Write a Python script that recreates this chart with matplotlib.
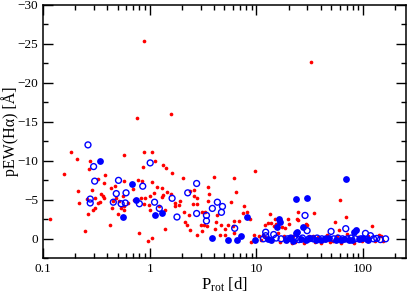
import matplotlib
matplotlib.use('Agg')
import matplotlib.pyplot as plt
from matplotlib.ticker import LogLocator, MultipleLocator, FixedLocator, FixedFormatter

plt.rcParams['font.family'] = ['Liberation Serif', 'DejaVu Serif']
plt.rcParams['mathtext.fontset'] = 'custom'
plt.rcParams['mathtext.rm'] = 'Liberation Serif'
plt.rcParams['mathtext.it'] = 'Liberation Serif:italic'

# red: small dots
red_p = [0.184, 0.21, 0.277, 0.578, 0.27, 0.156, 0.377, 0.33, 0.37, 0.434, 0.476, 0.58,
         0.212, 0.29, 0.35, 0.365, 0.376, 0.258, 0.219, 0.307, 0.339, 0.33, 0.45, 0.446,
         0.48, 0.565, 0.515, 0.54, 0.57, 0.58, 0.62, 0.5, 0.307, 0.296, 0.262, 0.116,
         0.428, 0.249, 0.79,
         0.89, 1.06, 1.11, 0.86, 1.32, 1.43, 1.6, 2.05, 3.97, 0.78, 0.85, 1.04, 0.7,
         1.16, 1.29, 1.45, 1.58, 1.34, 1.29, 1.1, 1.0, 0.91, 0.82, 0.72, 0.89, 0.98, 1.0,
         1.21, 1.4, 1.71, 1.74, 1.87, 1.93, 2.08, 2.34, 2.37, 2.6, 2.6, 2.8, 2.54, 2.77,
         3.1, 3.32, 3.5, 3.6, 3.5, 3.2, 3.44, 3.0, 2.16, 2.22, 2.36, 2.8, 3.1, 1.38,
         1.05, 0.96,
         0.88, 0.76, 1.58, 32.6,
         9.6, 6.1, 6.4, 5.8, 7.7, 8.1, 7.5, 8.7, 4.3, 4.2, 6.1, 6.8, 4.7, 5.4, 6.0, 5.1,
         4.1, 4.6, 5.1, 6.2, 8.8, 9.5, 13.3, 12.9, 11.4, 12.1, 15.8, 15.0, 15.2, 18.6,
         20.0, 18.3, 24.7, 24.0, 19.3, 21.5,
         60.5, 34.7, 24.5, 28.8, 30.0, 68.6, 54.0, 59.0, 88.0, 120.0, 147.0, 152.0,
         13.8, 14.6, 12.0, 17.4, 19.8, 33.5, 45.7,
         10.5, 11.0, 14.0, 16.5, 18.0, 22.0, 23.0, 26.0, 28.0, 31.0, 35.0, 38.0, 40.0,
         43.0, 46.0, 49.0, 52.0, 57.0, 62.0, 65.0, 70.0, 75.0, 82.0, 90.0, 98.0, 110.0,
         130.0, 140.0]
red_ew = [-11.2, -10.3, -10.0, -10.7, -9.0, -8.3, -8.2, -7.7, -7.1, -6.5, -6.8, -7.4,
          -6.1, -6.2, -5.8, -5.5, -5.3, -5.1, -4.6, -5.2, -4.7, -4.6, -4.9, -4.0,
          -5.3, -5.5, -4.8, -3.9, -3.7, -4.2, -4.65, -3.2, -3.9, -3.7, -3.2, -2.6,
          -1.8, -1.0, -0.8,
          -11.2, -11.2, -10.0, -9.2, -9.5, -9.1, -8.5, -7.8, -7.9, -7.5, -7.4, -7.35, -6.45,
          -6.7, -6.5, -6.0, -5.8, -5.6, -5.4, -5.9, -5.5, -5.2, -5.3, -4.95, -4.5, -4.3, -3.75,
          -4.2, -3.75, -4.65, -4.2, -4.4, -4.8, -3.5, -3.1, -6.15, -6.3, -5.5, -5.25, -4.5, -4.5,
          -3.5, -3.4, -6.7, -5.8, -4.8, -1.8, -1.6, -1.75, -2.1, -1.8, -1.1, -0.5, -1.0, -1.3,
          -0.1, 0.3,
          -25.4, -15.5, -16.0, -22.7,
          -8.75, -7.85, -6.0, -4.7, -4.2, -3.5, -3.3, -2.5, -3.0, -2.2, -2.35, -2.25, -1.8, -1.75, -1.7, -1.2,
          -1.3, -0.55, -0.55, -0.8, 0.4, -0.55, -3.2, -2.0, -0.55, -0.2, -0.7, -2.55, -1.9, -1.35,
          -1.9, -0.35, -3.45, -2.6, 0.3, 0.5,
          -5.0, -3.25, -2.45, -1.95, -1.8, -2.8, -2.2, -1.1, -1.3, -1.65, -0.3, 0.3,
          -2.05, -1.7, -1.8, -1.5, -2.55, -0.35, -0.4,
          -0.3, 0.2, 0.3, 0.4, -0.2, -0.4, 0.4, 0.2, 0.5, -0.3, 0.4, -0.2, 0.6,
          0.1, -0.5, 0.4, 0.3, -0.4, 0.5, 0.2, -0.6, 0.3, 0.5, -0.2, 0.3, -0.4,
          0.3, -0.5]

# blue: filled circles
fill_p = [0.342, 0.68, 0.56, 0.75, 1.12, 1.31, 3.8, 8.1, 5.4, 7.2, 6.5, 9.6, 12.8, 13.8,
          16.3, 16.6, 23.6, 30.0, 68.6, 27.4, 24.0, 85.0, 81.6, 15.7, 23.6,
          19.0, 20.7, 22.0, 26.0, 29.0, 32.0, 36.0, 40.0, 44.0, 48.0, 55.0, 62.0, 66.0,
          73.0, 78.0, 92.0, 100.0, 112.0]
fill_ew = [-9.95, -7.0, -2.8, -4.95, -3.0, -3.3, -0.1, -2.8, 0.2, -0.4, 0.1, 0.1, 0.0, 0.2,
           -2.5, -2.1, -5.1, -5.2, -7.7, -1.55, -0.85, -1.1, -0.85, -1.5, -0.7,
           0.1, -0.1, 0.3, 0.0, 0.2, -0.1, 0.1, 0.2, 0.0, -0.1, 0.1, 0.2, 0.0,
           0.1, 0.2, 0.0, -0.1, 0.1]

# blue: open circles
open_p = [0.264, 0.298, 0.305, 0.51, 0.6, 0.486, 0.277, 0.277, 0.456, 0.54, 0.59, 1.01,
          0.86, 0.8, 1.11, 1.23, 1.62, 1.8, 2.27, 2.75, 2.75, 3.4, 3.4, 3.86, 4.3, 4.8,
          4.7, 6.25, 12.2, 12.2, 11.6, 14.5, 15.3, 28.5, 29.8, 50.0, 68.6, 105.0, 117.0,
          125.0, 134.0, 162.0,
          17.0, 19.5, 21.0, 23.0, 25.0, 27.0, 31.0, 34.0, 37.0, 41.0, 45.0, 53.0, 58.0,
          64.0, 71.0, 77.0, 84.0, 95.0, 110.0, 145.0]
open_ew = [-12.05, -9.27, -7.4, -7.5, -5.9, -5.8, -5.1, -4.6, -4.7, -4.5, -4.6, -9.74,
           -6.75, -4.5, -4.7, -3.9, -5.2, -2.8, -5.9, -7.1, -3.25, -3.0, -2.3, -3.9, -4.7, -4.15,
           -3.4, -1.35, -0.85, -0.4, 0.0, -0.55, -0.1, -3.0, -1.05, -0.95, -1.3, -0.7, -0.4,
           0.0, -0.05, 0.0,
           0.0, 0.0, -0.1, 0.0, 0.1, -0.1, 0.0, 0.0, -0.1, 0.0, 0.0, 0.0, -0.1,
           0.0, 0.0, -0.1, 0.0, 0.0, 0.1, 0.1]

fig = plt.figure(figsize=(4.07, 2.93), dpi=100)
ax = fig.add_axes([0.1056, 0.1184, 0.8912, 0.8646])

ax.scatter(red_p, red_ew, s=7, color='#ff0000', linewidths=0, zorder=2)
ax.scatter(open_p, open_ew, s=18, facecolors='none', edgecolors='#0000ff', linewidths=1.0, zorder=3)
ax.scatter(fill_p, fill_ew, s=24, color='#0000ff', linewidths=0, zorder=4)

ax.set_xscale('log')
ax.set_xlim(0.1, 250)
ax.set_ylim(2.5, -30)

ax.xaxis.set_major_locator(FixedLocator([0.1, 1, 10, 100]))
ax.xaxis.set_major_formatter(FixedFormatter(['0.1', '1', '10', '100']))
ax.xaxis.set_minor_locator(LogLocator(base=10, subs=range(2, 10)))
ax.xaxis.set_minor_formatter(FixedFormatter([]))
ax.yaxis.set_major_locator(FixedLocator([0, -5, -10, -15, -20, -25, -30]))
ax.yaxis.set_minor_locator(MultipleLocator(2.5))

ax.tick_params(which='both', direction='in', top=True, right=True, labelsize=9.5, width=1.0)
ax.tick_params(which='major', length=7, pad=3.5)
ax.tick_params(which='minor', length=3.5)
for s in ax.spines.values():
    s.set_linewidth(1.1)

ax.set_xlabel(r'P$_{\rm rot}$ [d]', fontsize=12, labelpad=0)
ax.set_ylabel('pEW(Hα) [Å]', fontsize=11.5)
ax.yaxis.set_label_coords(-0.067, 0.5)

fig.savefig('out.png', dpi=100)
